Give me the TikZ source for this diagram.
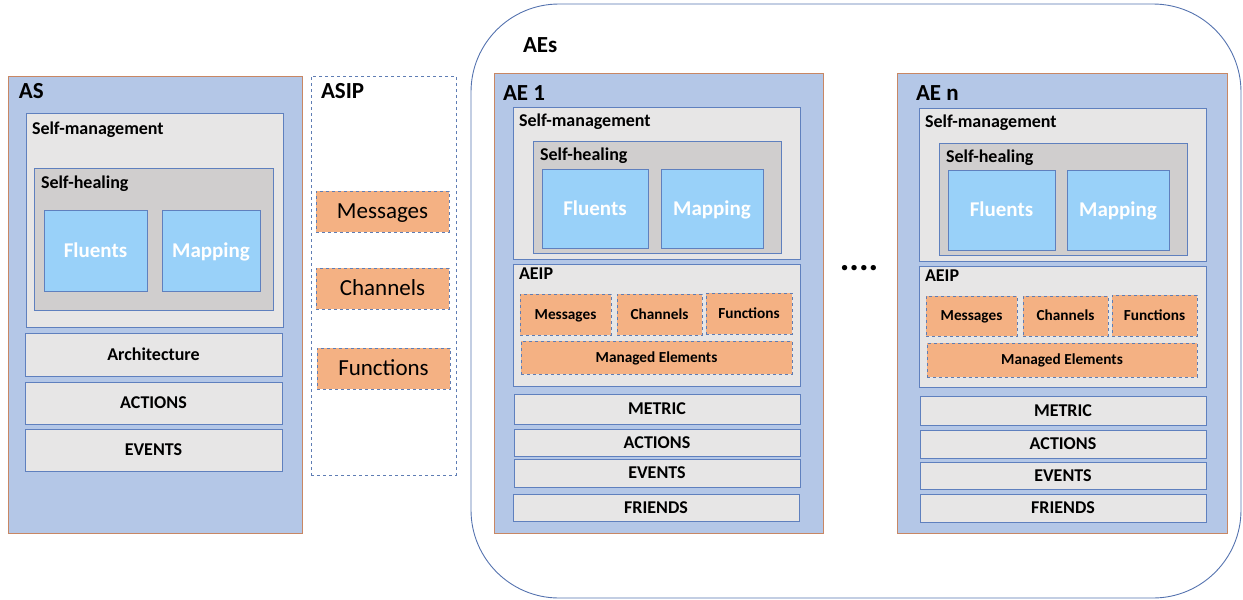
\documentclass[tikz,border=0pt]{standalone}
\usepackage{fontspec}
\setmainfont{Carlito}
\usetikzlibrary{calc}

\definecolor{aeblue}{RGB}{180,199,231}
\definecolor{aeedge}{RGB}{200,135,100}
\definecolor{boxgrey}{RGB}{231,230,230}
\definecolor{healgrey}{RGB}{208,206,206}
\definecolor{boxedge}{RGB}{95,128,190}
\definecolor{skyfill}{RGB}{153,209,249}
\definecolor{peach}{RGB}{244,177,131}
\definecolor{dashedge}{RGB}{95,125,180}
\definecolor{roundedge}{RGB}{85,115,175}

% text boxes are as tall as a capital (0.64 of the size), so caps sit centred
\tikzset{
  every node/.style={inner sep=0pt, outer sep=0pt},
  capsz/.style={font=\fontsize{#1}{#1}\selectfont\bfseries,
    text height={0.64*#1 pt}, text depth=0pt},
  outerbox/.style={draw=aeedge, fill=aeblue, line width=0.9pt},
  greybox/.style={draw=boxedge, fill=boxgrey, line width=0.8pt},
  healbox/.style={draw=boxedge, fill=healgrey, line width=0.8pt},
  skybox/.style={draw=boxedge, fill=skyfill, line width=0.8pt, text=white, capsz=21},
  ipbox/.style={draw=dashedge, fill=peach, line width=0.8pt, dashed, capsz=15.3},
  asipbox/.style={draw=dashedge, fill=peach, line width=0.8pt, dashed,
    text height=14.7pt, text depth=0pt, font=\fontsize{23}{26}\selectfont},
  rowbox/.style={greybox, capsz=18},
  bigttl/.style={anchor=west, capsz=23},
  subttl/.style={anchor=west, capsz=18},
}

% rectangle node from its top-left to its bottom-right corner (pixel units)
\newcommand\rbox[7]{%
  \node[#6, anchor=north west, minimum width={(#4-#2)*1pt},
        minimum height={(#5-#3)*1pt}] (#1) at (#2,#3) {#7};}

\begin{document}
\begin{tikzpicture}[x=1pt, y=-1pt]
\useasboundingbox (0,0) rectangle (1243,600);

% ---------- AS ----------
\rbox{as}{8}{76}{302}{533}{outerbox}{}
\node[bigttl] (asT) at ([xshift=11pt, yshift=-15pt]as.north west) {AS};
\rbox{asSM}{26}{113}{283}{327}{greybox}{}
\node[subttl] (asSMT) at ([xshift=6pt, yshift=-15.5pt]asSM.north west) {Self-management};
\rbox{asSH}{34}{168}{273}{310}{healbox}{}
\node[subttl] (asSHT) at ([xshift=7pt, yshift=-15pt]asSH.north west) {Self-healing};
\rbox{asFl}{44}{210}{147}{291}{skybox}{Fluents}
\rbox{asMa}{162}{210}{260}{291}{skybox}{Mapping}
\rbox{asAr}{25}{333}{282}{376}{rowbox}{Architecture}
\rbox{asAc}{25}{382}{282}{424}{rowbox}{ACTIONS}
\rbox{asEv}{25}{429}{282}{471}{rowbox}{EVENTS}

% ---------- ASIP ----------
\rbox{asip}{311}{76}{456}{475}{draw=dashedge, dashed, line width=0.8pt}{}
\node[bigttl] (asipT) at ([xshift=10pt, yshift=-15pt]asip.north west) {ASIP};
\rbox{asipMe}{316}{191}{449}{232}{asipbox}{Messages}
\rbox{asipCh}{316}{268}{449}{309}{asipbox}{Channels}
\rbox{asipFu}{317}{348}{450}{389}{asipbox}{Functions}

% ---------- AEs container ----------
\node[draw=roundedge, line width=0.9pt, rounded corners=88pt, anchor=north west,
      minimum width=770pt, minimum height=594pt] (aes) at (471,4) {};
\node[bigttl] (aesT) at (523,45.5) {AEs};

% ---------- AE 1 ----------
\rbox{ae1}{494}{73}{823}{533}{outerbox}{}
\node[bigttl] (ae1T) at ([xshift=9pt, yshift=-20.5pt]ae1.north west) {AE 1};
\rbox{ae1SM}{513}{107}{800}{259}{greybox}{}
\node[subttl] (ae1SMT) at ([xshift=6pt, yshift=-13.5pt]ae1SM.north west) {Self-management};
\rbox{ae1SH}{533}{141}{781}{253}{healbox}{}
\node[subttl] (ae1SHT) at ([xshift=7pt, yshift=-14pt]ae1SH.north west) {Self-healing};
\rbox{ae1Fl}{542}{169}{648}{248}{skybox}{Fluents}
\rbox{ae1Ma}{661}{169}{763}{248}{skybox}{Mapping}
\rbox{ae1IP}{513}{264}{800}{386}{greybox}{}
\node[subttl] (ae1IPT) at ([xshift=6pt, yshift=-9.5pt]ae1IP.north west) {AEIP};
\rbox{ae1Me}{520}{294}{611}{335}{ipbox}{Messages}
\rbox{ae1Ch}{617}{294}{702}{335}{ipbox}{Channels}
\rbox{ae1Fu}{706}{293}{792}{334}{ipbox}{Functions}
\rbox{ae1ME}{521}{341}{792}{374}{ipbox}{Managed Elements}
\rbox{ae1Mt}{514}{394}{800}{424}{rowbox}{METRIC}
\rbox{ae1Ac}{514}{429}{800}{456}{rowbox}{ACTIONS}
\rbox{ae1Ev}{514}{459}{800}{487}{rowbox}{EVENTS}
\rbox{ae1Fr}{513}{494}{799}{521}{rowbox}{FRIENDS}

% ---------- ellipsis between the elements ----------
\node[font=\fontsize{36}{40}\selectfont\bfseries] (dots) at (859,268) {....};

% ---------- AE n ----------
\rbox{aen}{897}{73}{1227}{533}{outerbox}{}
\node[bigttl] (aenT) at ([xshift=19pt, yshift=-20.5pt]aen.north west) {AE n};
\rbox{aenSM}{919}{108}{1206}{261}{greybox}{}
\node[subttl] (aenSMT) at ([xshift=6pt, yshift=-14pt]aenSM.north west) {Self-management};
\rbox{aenSH}{939}{143}{1187}{255}{healbox}{}
\node[subttl] (aenSHT) at ([xshift=7pt, yshift=-14pt]aenSH.north west) {Self-healing};
\rbox{aenFl}{948}{170}{1055}{250}{skybox}{Fluents}
\rbox{aenMa}{1067}{170}{1169}{250}{skybox}{Mapping}
\rbox{aenIP}{919}{266}{1206}{387}{greybox}{}
\node[subttl] (aenIPT) at ([xshift=6pt, yshift=-9.5pt]aenIP.north west) {AEIP};
\rbox{aenMe}{926}{296}{1017}{336}{ipbox}{Messages}
\rbox{aenCh}{1023}{296}{1108}{336}{ipbox}{Channels}
\rbox{aenFu}{1112}{295}{1197}{336}{ipbox}{Functions}
\rbox{aenME}{927}{343}{1197}{377}{ipbox}{Managed Elements}
\rbox{aenMt}{920}{396}{1206}{425}{rowbox}{METRIC}
\rbox{aenAc}{920}{430}{1206}{458}{rowbox}{ACTIONS}
\rbox{aenEv}{920}{462}{1206}{489}{rowbox}{EVENTS}
\rbox{aenFr}{920}{494}{1206}{522}{rowbox}{FRIENDS}
\end{tikzpicture}
\end{document}
